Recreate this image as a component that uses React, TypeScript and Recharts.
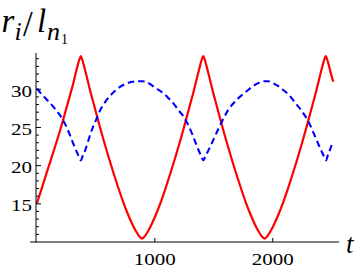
import React from 'react';
import { LineChart, Line, XAxis, YAxis } from 'recharts';

const redT = [0,40,80,120,160,200,240,280,310,330,345,358,366,372,
  378,386,400,420,450,490,530,570,610,650,690,730,770,810,840,865,891,
  917,942,972,1012,1052,1092,1132,1172,1212,1252,1292,1332,1362,1382,1396,1404,1411,
  1417,1425,1439,1459,1489,1529,1569,1609,1649,1689,1729,1769,1809,1849,1879,1904,1930,
  1956,1981,2011,2051,2091,2131,2171,2211,2251,2291,2331,2371,2401,2421,2435,2443,2450,
  2456,2464,2478,2498,2513];
const redV = [15.1,17.0,18.95,20.85,22.8,24.8,27.0,29.2,30.9,32.2,33.1,33.8,34.15,34.35,
  34.15,33.8,33.0,31.8,29.9,27.6,25.3,23.1,21.0,19.0,17.1,15.3,13.7,12.3,11.4,10.8,10.45,
  10.8,11.4,12.3,13.7,15.3,17.1,19.0,21.0,23.1,25.3,27.6,29.9,31.8,33.0,33.8,34.15,34.35,
  34.15,33.8,33.0,31.8,29.9,27.6,25.3,23.1,21.0,19.0,17.1,15.3,13.7,12.3,11.4,10.8,10.45,
  10.8,11.4,12.3,13.7,15.3,17.1,19.0,21.0,23.1,25.3,27.6,29.9,31.8,33.0,33.8,34.15,34.35,
  34.15,33.8,33.0,31.8,31.0];

const blueT = [0,40,80,120,160,200,240,280,310,335,355,372,
  389,409,434,464,504,544,584,624,664,704,744,784,824,860,891,
  922,958,998,1038,1078,1118,1158,1198,1238,1278,1318,1348,1373,1393,1411,
  1428,1448,1473,1503,1543,1583,1623,1663,1703,1743,1783,1823,1863,1899,1930,
  1961,1997,2037,2077,2117,2157,2197,2237,2277,2317,2357,2387,2412,2432,2452,
  2467,2485,2500];
const blueV = [30.1,29.35,28.7,28.05,27.3,26.5,25.4,24.0,22.8,21.9,21.2,20.7,
  21.3,22.0,23.2,24.6,26.1,27.5,28.45,29.2,29.8,30.3,30.65,30.9,31.0,31.05,31.05,
  31.0,30.7,30.25,29.85,29.4,28.8,28.15,27.3,26.55,25.5,24.1,22.9,21.95,21.25,20.7,
  21.2,21.8,22.6,23.6,24.95,26.2,27.3,28.1,28.75,29.3,29.8,30.3,30.7,30.95,31.05,
  31.05,30.85,30.5,30.05,29.55,28.9,28.1,27.35,26.45,25.3,23.9,22.8,21.95,21.3,20.7,
  21.35,22.05,22.7];

const xTicks = [1000, 2000];
const yTicks = [11,12,13,14,15,16,17,18,19,20,21,22,23,24,25,26,27,28,29,30,31,32,33,34];
const yLabeled = [15, 20, 25, 30];

const redData = redT.map((t, i) => ({ t, v: redV[i] }));
const blueData = blueT.map((t, i) => ({ t, v: blueV[i] }));

const AXIS_X = 36;
const AXIS_Y = 242;
const SERIF = '"Liberation Serif", "Times New Roman", serif';

function YTick(props: any) {
  const { y, payload } = props;
  const v = payload.value;
  const major = yLabeled.includes(v);
  return (
    <g>
      <line x1={AXIS_X} x2={AXIS_X + (major ? 5 : 3)} y1={y} y2={y} stroke="#000" strokeWidth={1} />
      {major && (
        <g transform={`translate(32 ${y + 7.6}) scale(1.2 1)`}>
          <text x={0} y={0} textAnchor="end" fontFamily={SERIF} fontSize={17.5} fill="#000">
            {v}
          </text>
        </g>
      )}
    </g>
  );
}

function XTick(props: any) {
  const { x, payload } = props;
  return (
    <g>
      <line x1={x} x2={x} y1={AXIS_Y} y2={AXIS_Y - 4} stroke="#000" strokeWidth={1} />
      <g transform={`translate(${x} 265) scale(1.2 1)`}>
        <text x={0} y={0} textAnchor="middle" fontFamily={SERIF} fontSize={17.5} fill="#000">
          {payload.value}
        </text>
      </g>
    </g>
  );
}

export default function App() {
  return (
    <div style={{ position: 'absolute', left: 0, top: 0, width: 360, height: 271, background: '#fff' }}>
      <LineChart width={360} height={271} margin={{ top: 53, right: 21, bottom: 0, left: 0 }}>
        <XAxis
          type="number"
          dataKey="t"
          domain={[-8, 2562]}
          allowDataOverflow
          ticks={xTicks}
          interval={0}
          tick={<XTick />}
          tickLine={false}
          tickSize={0}
          tickMargin={0}
          height={29}
          axisLine={{ stroke: '#000', strokeWidth: 1 }}
        />
        <YAxis
          type="number"
          dataKey="v"
          domain={[10, 34.75]}
          allowDataOverflow
          ticks={yTicks}
          interval={0}
          tick={<YTick />}
          tickLine={false}
          tickSize={0}
          tickMargin={4}
          width={36}
          axisLine={{ stroke: '#000', strokeWidth: 1 }}
        />
        <Line
          data={redData}
          dataKey="v"
          type="monotone"
          stroke="#ff0000"
          strokeWidth={2.2}
          dot={false}
          activeDot={false}
          isAnimationActive={false}
        />
        <Line
          data={blueData}
          dataKey="v"
          type="monotone"
          stroke="#0000ff"
          strokeWidth={2.1}
          strokeDasharray="6.5 4"
          dot={false}
          activeDot={false}
          isAnimationActive={false}
        />
      </LineChart>
      <svg
        width={360}
        height={271}
        style={{ position: 'absolute', left: 0, top: 0, pointerEvents: 'none' }}
      >
        <line x1={30} x2={36.5} y1={AXIS_Y} y2={AXIS_Y} stroke="#000" strokeWidth={1} />
        <g fontFamily={SERIF} fill="#000">
          <text x={1.5} y={31.7} fontSize={33} fontStyle="italic">r</text>
          <text x={14.5} y={39.5} fontSize={26} fontStyle="italic">i</text>
          <text x={23} y={36} fontSize={35}>/</text>
          <text x={37} y={31.7} fontSize={33} fontStyle="italic">l</text>
          <text x={47} y={39.5} fontSize={26} fontStyle="italic">n</text>
          <text x={61} y={44.3} fontSize={14}>1</text>
          <text x={346} y={253.3} fontSize={27} fontStyle="italic">t</text>
        </g>
      </svg>
    </div>
  );
}
